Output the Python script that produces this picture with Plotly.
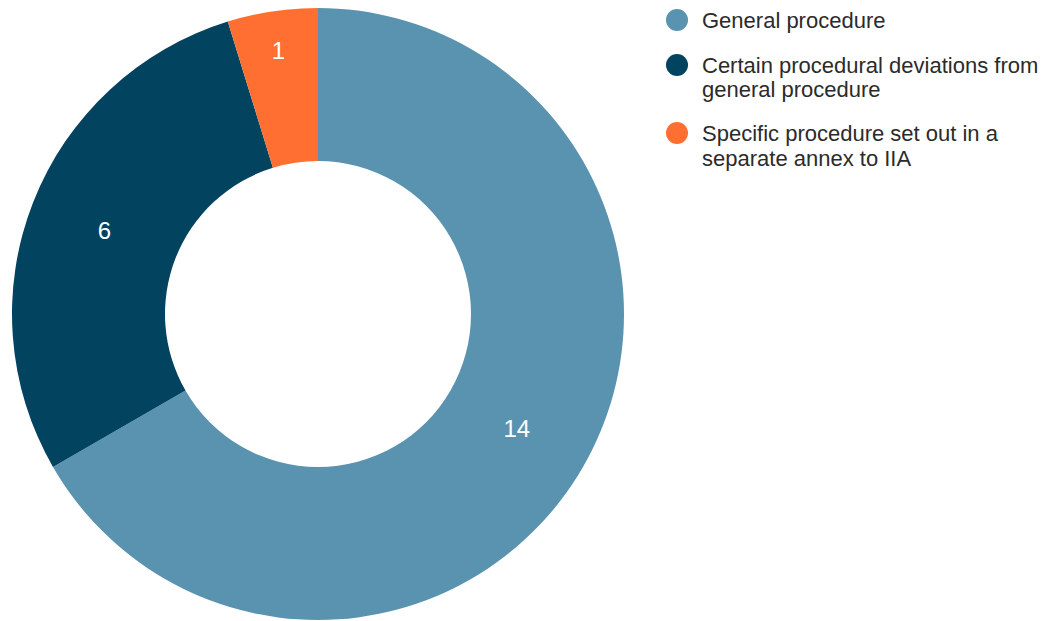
import plotly.graph_objects as go

labels = ["General procedure",
          "Certain procedural deviations from<br>general procedure",
          "Specific procedure set out in a<br>separate annex to IIA"]
values = [14, 6, 1]
colors = ["#5A93B0", "#02435F", "#FF6F31"]

W, H = 1045, 621
FONT = "Liberation Sans, Arial, sans-serif"

fig = go.Figure()
fig.add_trace(go.Pie(
    labels=labels, values=values, hole=0.5, sort=False, direction="clockwise",
    rotation=0, marker=dict(colors=colors, line=dict(width=0)),
    textinfo="value", textposition="inside", insidetextorientation="horizontal",
    textfont=dict(family=FONT, size=24, color="white"),
    showlegend=False, hoverinfo="label+value",
    domain=dict(x=[12 / W, 624 / W], y=[1 / H, 1 - 8 / H]),
))

# Custom legend with round markers
legend_y = [20, 65, 133]  # pixel centres of the first line of each entry
line_gap = 25
shapes = []
annotations = []
r = 11
for lab, col, yc in zip(labels, colors, legend_y):
    cx = 677
    shapes.append(dict(type="circle", xref="paper", yref="paper",
                       x0=(cx - r) / W, x1=(cx + r) / W,
                       y0=1 - (yc + r) / H, y1=1 - (yc - r) / H,
                       fillcolor=col, line=dict(width=0)))
    for i, line in enumerate(lab.split("<br>")):
        annotations.append(dict(xref="paper", yref="paper", x=700 / W,
                                y=1 - (yc + i * line_gap) / H,
                                xanchor="left", yanchor="middle", align="left",
                                text=line, showarrow=False,
                                font=dict(family=FONT, size=22, color="#2b2b2b")))

fig.update_layout(
    width=W, height=H, margin=dict(l=0, r=0, t=0, b=0),
    paper_bgcolor="white", plot_bgcolor="white",
    shapes=shapes, annotations=annotations,
    font=dict(family=FONT),
)

fig.write_html("out.html")
